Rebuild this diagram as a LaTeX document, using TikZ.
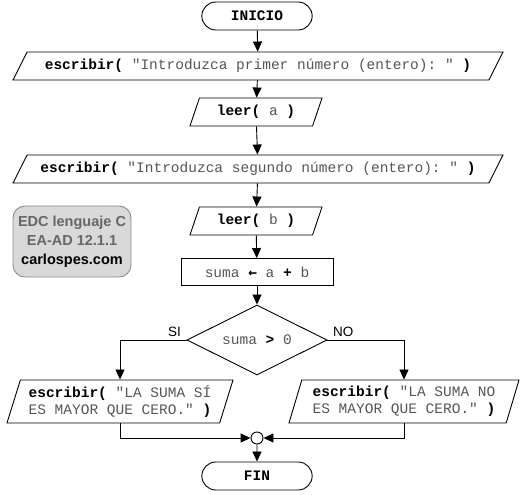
\documentclass[tikz,border=0pt]{standalone}
\usepackage{fontspec}
\setmonofont{Liberation Mono}
\setsansfont{Liberation Sans}
\newfontfamily\arrowfont{DejaVu Sans Mono}
\usepackage{tikz}
\usetikzlibrary{shapes.geometric,shapes.misc,arrows.meta}
\usepackage{xcolor}
\definecolor{CodeGray}{HTML}{555555}
\definecolor{BoxFill}{HTML}{D9D9D9}
\definecolor{BoxLine}{HTML}{8C8C8C}
\definecolor{BoxText}{HTML}{666666}
\newcommand{\kw}[1]{\textbf{\color{black}#1}}
\frenchspacing

\begin{document}
\begin{tikzpicture}[x=1pt,y=-1pt,line width=0.9pt,
    every node/.style={font=\ttfamily\fontsize{14.5}{17}\selectfont,text=CodeGray},
    terminal/.style={draw,rounded rectangle,minimum width=117pt,minimum height=28pt,fill=white},
    iobox/.style={draw,trapezium,trapezium stretches body,trapezium left angle=#1,
        trapezium right angle=180-#1,minimum height=28pt,inner xsep=2pt},
    procbox/.style={draw,rectangle,minimum width=152pt,minimum height=27pt},
    decision/.style={draw,diamond,aspect=2,minimum width=140pt,minimum height=70pt,inner sep=0pt},
    flow/.style={-{Triangle[length=10pt,width=9pt]}},
    branch/.style={font=\sffamily\fontsize{13.5}{15}\selectfont,text=black}]
    \useasboundingbox (0,0) rectangle (523,495);

    \node[terminal] (inicio) at (257,16) {\kw{INICIO}};
    \node[iobox=55,minimum width=490pt] (escA) at (258,66)
        {\kw{escribir(} "Introduzca primer número (entero): " \kw{)}};
    \node[iobox=65,minimum width=132pt] (leerA) at (256,112) {\kw{leer(} a \kw{)}};
    \node[iobox=55,minimum width=490pt] (escB) at (258,169)
        {\kw{escribir(} "Introduzca segundo número (entero): " \kw{)}};
    \node[iobox=65,minimum width=132pt] (leerB) at (256,221) {\kw{leer(} b \kw{)}};
    \node[procbox] (suma) at (257,272) {suma \kw{\arrowfont ←} a \kw{+} b};
    \node[decision] (cond) at (257,340) {suma \kw{>} 0};
    \node[iobox=71,minimum width=226pt,minimum height=43pt,align=left] (escSi) at (120,401.5)
        {\kw{escribir(} "LA SUMA SÍ\\ES MAYOR QUE CERO." \kw{)}};
    \node[iobox=71,minimum width=230pt,minimum height=43pt,align=left] (escNo) at (404,401.5)
        {\kw{escribir(} "LA SUMA NO\\ES MAYOR QUE CERO." \kw{)}};
    \node[draw,circle,minimum size=12pt,inner sep=0pt] (union) at (257,438) {};
    \node[terminal] (fin) at (257,476) {\kw{FIN}};

    % marca del autor
    \node[draw=BoxLine,fill=BoxFill,rounded corners=12pt,minimum width=118pt,minimum height=71pt,
        align=center,font=\sffamily\bfseries\fontsize{14.5}{19}\selectfont,text=BoxText]
        (marca) at (72,241.5) {EDC lenguaje C\\EA-AD 12.1.1\\\textcolor{black}{carlospes.com}};

    \draw[flow] (inicio) -- (escA);
    \draw[flow] (escA) -- (leerA);
    \draw[flow] (leerA) -- (escB);
    \draw[flow] (escB) -- (leerB);
    \draw[flow] (leerB) -- (suma);
    \draw[flow] (suma) -- (cond);
    \draw[flow] (cond.west) -| (escSi.north)
        node[pos=0,branch,above left,xshift=-2pt] (si) {SI};
    \draw[flow] (cond.east) -| (escNo.north)
        node[pos=0,branch,above right,xshift=2pt] (no) {NO};
    \draw[flow] (escSi.south) |- (union.west);
    \draw[flow] (escNo.south) |- (union.east);
    \draw[flow] (union) -- (fin);
\end{tikzpicture}
\end{document}
